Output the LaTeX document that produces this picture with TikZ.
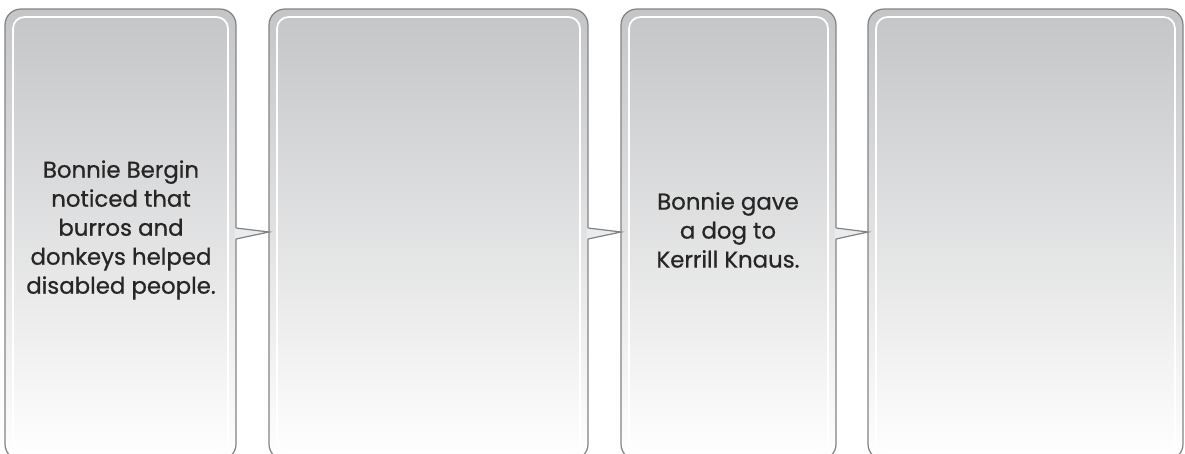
\documentclass[tikz,border=0pt]{standalone}
\usepackage{fontspec}
\setmainfont{Poppins}
\newfontfamily\boxfont{Poppins}[FakeBold=0.7]
\usetikzlibrary{positioning}

\definecolor{panelgray}{RGB}{196,197,199}
\definecolor{rimgray}{RGB}{130,131,133}
\definecolor{notchgray}{RGB}{234,235,236}

\begin{document}
\begin{tikzpicture}[x=0.02cm,y=-0.02cm,
    panel/.style={draw=rimgray,line width=0.7pt,rounded corners=9pt,
                  top color=panelgray,bottom color=white,
                  minimum height=9.02cm,inner sep=0pt,outer sep=0pt},
    glint/.style={draw=white,line width=1pt,rounded corners=6.5pt},
    rim/.style={draw=rimgray,line width=0.7pt},
    caption/.style={align=center,text=black!85,font=\boxfont\fontsize{13}{16.5}\selectfont}]

  \useasboundingbox (0,0) rectangle (1185,453);

  % the four panels
  \node[panel,minimum width=4.62cm] (p1) at (120.5,234.5) {};
  \node[panel,minimum width=6.38cm] (p2) at (428.5,234.5) {};
  \node[panel,minimum width=4.30cm] (p3) at (728.5,234.5) {};
  \node[panel,minimum width=6.30cm] (p4) at (1025.5,234.5) {};

  % white inner rims
  \foreach \p in {p1,p2,p3,p4}
    \draw[glint] ([shift={(8,8)}]\p.north west) rectangle ([shift={(-8,-8)}]\p.south east);

  % notches pointing to the next panel
  \foreach \a/\b in {p1/p2,p2/p3,p3/p4}{
    \coordinate (up) at (\a.east |- 0,228);
    \coordinate (dn) at (\a.east |- 0,239);
    \coordinate (tip) at (\b.west |- 0,232);
    \fill[notchgray] ([xshift=-0.6pt]up) -- (up) -- (tip) -- (dn) -- ([xshift=-0.6pt]dn) -- cycle;
    \draw[rim] (up) -- (tip) -- (dn);
  }

  \node[caption] (t1) at (121,230) {Bonnie Bergin\\noticed that\\burros and\\donkeys helped\\disabled people.};
  \node[caption] (t3) at (728,230) {Bonnie gave\\a dog to\\Kerrill Knaus.};

\end{tikzpicture}
\end{document}
